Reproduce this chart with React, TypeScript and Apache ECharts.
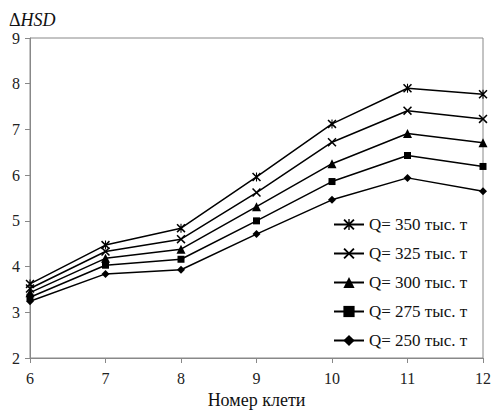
import React, { useEffect, useRef } from "react";
import * as echarts from "echarts";

const stands = [6, 7, 8, 9, 10, 11, 12];
const seriesNames = ["Q= 350 тыс. т", "Q= 325 тыс. т", "Q= 300 тыс. т", "Q= 275 тыс. т", "Q= 250 тыс. т"];
const q350 = [3.62, 4.47, 4.84, 5.96, 7.12, 7.9, 7.77];
const q325 = [3.52, 4.33, 4.6, 5.62, 6.72, 7.41, 7.23];
const q300 = [3.43, 4.18, 4.38, 5.31, 6.25, 6.91, 6.71];
const q275 = [3.33, 4.03, 4.16, 5.0, 5.86, 6.43, 6.19];
const q250 = [3.24, 3.84, 3.93, 4.71, 5.46, 5.94, 5.65];
const yTicks = [2, 9, 1];
const xTicks = [6, 12, 1];

const X_PATH = "path://M0,1.2 L1.2,0 L10,8.8 L8.8,10 Z M8.8,0 L10,1.2 L1.2,10 L0,8.8 Z";
const AST_PATH =
  "path://M0,1.2 L1.2,0 L10,8.8 L8.8,10 Z M8.8,0 L10,1.2 L1.2,10 L0,8.8 Z M4.4,0 L5.6,0 L5.6,10 L4.4,10 Z";

export default function App() {
  const ref = useRef<HTMLDivElement>(null);
  useEffect(() => {
    if (!ref.current) return;
    const chart = echarts.init(ref.current, undefined, { renderer: "svg" });
    const font = "Liberation Serif, serif";
    const values = [q350, q325, q300, q275, q250];
    const symbols = [AST_PATH, X_PATH, "triangle", "rect", "diamond"];
    const sizes = [9, 9, 9, 7, 8];
    chart.setOption({
      animation: false,
      textStyle: { fontFamily: font },
      title: {
        text: "{a|Δ}{b|HSD}",
        left: 4,
        top: 6,
        textStyle: {
          fontWeight: "normal",
          rich: {
            a: { fontFamily: font, fontSize: 18, fontWeight: "normal", color: "#111" },
            b: { fontFamily: font, fontSize: 18, fontStyle: "italic", fontWeight: "normal", color: "#111" },
          },
        },
      },
      grid: {
        left: 30,
        right: 9,
        top: 38,
        bottom: 55,
        outerBoundsMode: "none",
        containLabel: false,
        show: true,
        borderColor: "#888",
        borderWidth: 1,
      },
      legend: {
        orient: "vertical",
        left: 328,
        top: 211,
        itemWidth: 30,
        itemHeight: 14,
        itemGap: 12,
        data: seriesNames,
        textStyle: { fontFamily: font, fontSize: 17, color: "#111" },
      },
      xAxis: {
        type: "value",
        min: xTicks[0],
        max: xTicks[1],
        interval: xTicks[2],
        name: "Номер клети",
        nameLocation: "middle",
        nameGap: 33,
        nameTextStyle: { fontFamily: font, fontSize: 18, color: "#111" },
        axisLine: { lineStyle: { color: "#888" } },
        axisTick: { show: true, length: 5, lineStyle: { color: "#888" } },
        axisLabel: { fontFamily: font, fontSize: 16, color: "#222", margin: 12 },
        splitLine: { show: false },
      },
      yAxis: {
        type: "value",
        min: yTicks[0],
        max: yTicks[1],
        interval: yTicks[2],
        axisLine: { show: true, lineStyle: { color: "#888" } },
        axisTick: { show: true, length: 5, lineStyle: { color: "#888" } },
        axisLabel: { fontFamily: font, fontSize: 16, color: "#222", margin: 10 },
        splitLine: { show: false },
      },
      series: seriesNames.map((name, i) => ({
        name,
        type: "line",
        data: stands.map((s, j) => [s, values[i][j]]),
        symbol: symbols[i],
        symbolSize: sizes[i],
        showAllSymbol: true,
        lineStyle: { color: "#000", width: 1.5 },
        itemStyle: { color: "#000", borderWidth: 0 },
      })),
    });
    return () => chart.dispose();
  }, []);
  return (
    <div
      ref={ref}
      style={{ position: "fixed", left: 0, top: 0, width: 492, height: 413, background: "#fff" }}
    />
  );
}
